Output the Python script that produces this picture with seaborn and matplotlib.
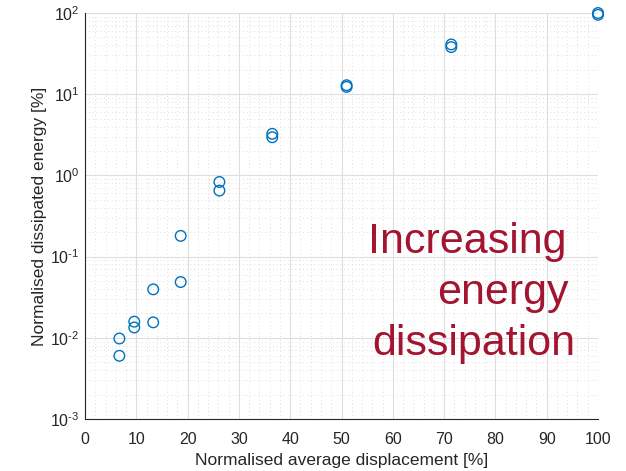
import numpy as np
import pandas as pd
import matplotlib
matplotlib.use("Agg")
import matplotlib.pyplot as plt
import seaborn as sns
from matplotlib.ticker import MultipleLocator, LogLocator, NullFormatter, FuncFormatter

# Data
displacement = [6.7, 6.7, 9.6, 9.6, 13.3, 13.3, 18.65, 18.65, 26.2, 26.2,
                36.5, 36.5, 51.0, 51.0, 71.4, 71.4, 100.0, 100.0]
energy = [0.0098, 0.0060, 0.0158, 0.0134, 0.0155, 0.0395, 0.0486, 0.18,
          0.83, 0.65, 3.25, 2.95, 12.9, 12.3, 41.0, 38.0, 100.0, 95.0]
xticks = [0, 10, 20, 30, 40, 50, 60, 70, 80, 90, 100]
annotation_lines = ["Increasing", "energy", "dissipation"]

sns.set_style("white")
plt.rcParams['font.family'] = ['Liberation Sans', 'DejaVu Sans']
plt.rcParams['mathtext.fontset'] = 'custom'
plt.rcParams['mathtext.rm'] = 'Liberation Sans'
plt.rcParams['mathtext.it'] = 'Liberation Sans:italic'
plt.rcParams['mathtext.bf'] = 'Liberation Sans:bold'
plt.rcParams['axes.unicode_minus'] = False

df = pd.DataFrame({"x": displacement, "y": energy})

fig = plt.figure(figsize=(6.26, 4.71), dpi=100)
ax = fig.add_axes([85/626, 1-419/471, (598-85)/626, (419-13)/471])

sns.scatterplot(data=df, x="x", y="y", ax=ax, marker='o', s=58,
                facecolor='none', edgecolor='#0072BD', linewidth=1.0,
                clip_on=False, zorder=5)
ax.collections[0].set_facecolor('none')
ax.collections[0].set_edgecolor('#0072BD')

ax.set_yscale('log')
ax.set_xlim(0, 100)
ax.set_ylim(1e-3, 1e2)
ax.set_xticks(xticks)
ax.xaxis.set_minor_locator(MultipleLocator(2))
ax.yaxis.set_major_locator(LogLocator(base=10, numticks=10))
ax.yaxis.set_minor_locator(LogLocator(base=10, subs=np.arange(2, 10), numticks=20))
ax.yaxis.set_minor_formatter(NullFormatter())


def log_fmt(v, pos):
    e = int(round(np.log10(v)))
    if e < 0:
        return r"$10^{\text{-}%d}$" % (-e)
    return r"$10^{%d}$" % e


ax.yaxis.set_major_formatter(FuncFormatter(log_fmt))

ax.grid(True, which='major', color='#dedede', linewidth=0.8, linestyle='-')
ax.grid(True, which='minor', color='#d4d4d4', linewidth=0.6, linestyle=(0, (1, 3.5)))
ax.set_axisbelow(True)

for s in ['top', 'right']:
    ax.spines[s].set_visible(False)
for s in ['left', 'bottom']:
    ax.spines[s].set_color('#262626')
    ax.spines[s].set_linewidth(0.8)

ax.tick_params(axis='both', which='major', direction='in', length=5, width=0.8,
               colors='#262626', labelsize=11.5, labelcolor='#262626')
ax.tick_params(axis='y', which='minor', direction='in', length=3, width=0.6, colors='#262626')
ax.tick_params(axis='x', which='minor', length=0)
ax.tick_params(axis='x', which='major', pad=9)
ax.tick_params(axis='y', which='major', pad=4)

ax.set_xlabel("Normalised average displacement [%]", fontsize=12.5, color='#262626', labelpad=5)
ax.set_ylabel("Normalised dissipated energy [%]", fontsize=12.5, color='#262626', labelpad=2)

text_pos = [(0.745, 0.435), (0.815, 0.31), (0.757, 0.185)]
for line, (tx, ty) in zip(annotation_lines, text_pos):
    ax.text(tx, ty, line, transform=ax.transAxes, ha='center', va='center',
            fontsize=31, color='#A2142F')

fig.savefig("out.png", dpi=100)
